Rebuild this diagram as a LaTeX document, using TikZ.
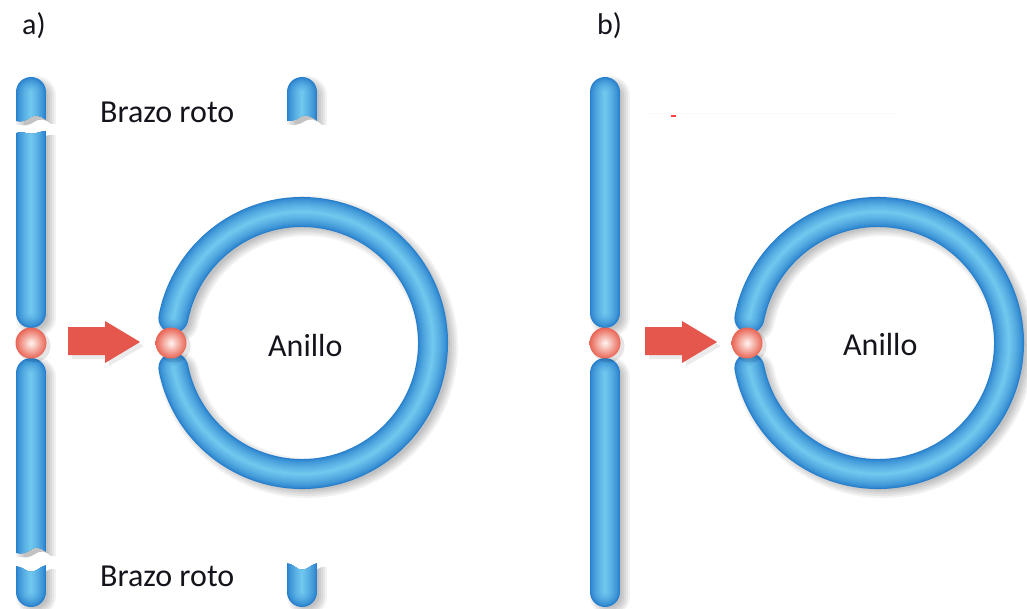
\documentclass[tikz,border=0pt]{standalone}
\usepackage{fontspec}
\setmainfont{Carlito}
\definecolor{tubeDark}{RGB}{38,126,204}
\definecolor{tubeLight}{RGB}{112,199,238}
\definecolor{cmOut}{RGB}{233,100,84}
\definecolor{cmIn}{RGB}{255,244,240}
\definecolor{arrowRed}{RGB}{229,86,76}
\definecolor{ink}{RGB}{20,20,28}

% layered strokes giving a cylindrical (tube) shading
\newcommand\tubestroke[1]{%
  \foreach \k in {0,...,14}{%
    \pgfmathsetmacro\w{30-2*\k}%
    \pgfmathtruncatemacro\p{100*(\k/14)^0.7}%
    \draw[line width=\w pt, line cap=round, tubeLight!\p!tubeDark] #1;%
  }}
% soft drop shadow behind a tube
\newcommand\shadowstroke[1]{%
  \foreach \k in {0,...,4}{%
    \pgfmathsetmacro\w{40-4*\k}%
    \draw[line width=\w pt, line cap=round, black, opacity=0.05] #1;%
  }}
% a tube piece cut by a clip region (broken ends)
\newcommand\piece[2]{%
  \begin{scope}[shift={(5,4)}]
    \clip #1;
    \shadowstroke{#2}
  \end{scope}
  \begin{scope}
    \clip #1;
    \tubestroke{#2}
  \end{scope}}
% a whole tube with rounded ends
\newcommand\tubeonly[1]{%
  \begin{scope}[shift={(5,4)}]
    \shadowstroke{#1}
  \end{scope}
  \tubestroke{#1}}

\begin{document}
\begin{tikzpicture}[x=1pt,y=-1pt,
  lbl/.style={font=\fontsize{32}{38}\selectfont, text=ink, inner sep=0pt, anchor=base west},
  tag/.style={font=\fontsize{30}{36}\selectfont, text=ink, inner sep=0pt, anchor=base west},
  centro/.style={circle, minimum size=31pt, inner sep=0pt, shade, inner color=cmIn, outer color=cmOut},
  cshadow/.style={circle, minimum size=33pt, inner sep=0pt, fill=black, opacity=0.1},
  blockarrow/.style={fill=arrowRed}]

\fill[white] (0,0) rectangle (1027,609);
\useasboundingbox (0,0) rectangle (1027,609);

% ---------------- panel a) ----------------
\node[tag] (tagA) at (22,35) {a)};

% broken chromosome, left column
\piece{(0,60) -- (60,60) -- (60,120) -- (46,120) .. controls (41,115) and (34,114) .. (29,118) .. controls (25,121) and (20,122) .. (16,121) -- (0,121) -- cycle}
      {(31,92) -- (31,140)}
\piece{(0,133) -- (16,133) .. controls (22,130) and (27,135) .. (33,134) .. controls (38,133) and (42,131) .. (46,131) -- (60,131) -- (60,340) -- (0,340) -- cycle}
      {(31,120) -- (31,313)}
\piece{(0,340) -- (60,340) -- (60,552) -- (46,552) .. controls (41,547) and (35,546) .. (30,550) .. controls (26,553) and (21,554) .. (16,553) -- (0,553) -- cycle}
      {(31,373) -- (31,580)}
\piece{(0,566) -- (16,566) .. controls (22,567) and (27,572) .. (31,572) .. controls (36,572) and (40,567) .. (46,565) -- (60,565) -- (60,620) -- (0,620) -- cycle}
      {(31,550) -- (31,592)}

% detached arm tips
\piece{(280,60) -- (330,60) -- (330,121) -- (317,121) .. controls (311,115) and (305,114) .. (300,117) .. controls (296,120) and (291,121) .. (287,121) -- (280,121) -- cycle}
      {(302,92) -- (302,140)}
\piece{(280,563) -- (287,563) .. controls (293,564) and (297,570) .. (302,570) .. controls (307,570) and (311,565) .. (317,563) -- (330,563) -- (330,620) -- (280,620) -- cycle}
      {(302,550) -- (302,592)}

\node[lbl] (brazoTop) at (100,123) {Brazo roto};
\node[lbl] (brazoBot) at (100,586) {Brazo roto};

% ring chromosome
\tubeonly{(302,343) ++(191:131) arc[start angle=191, end angle=529, radius=131]}
\node[lbl] (anilloA) at (268,356) {Anillo};

% arrow
\fill[black, opacity=0.08] (72,331) -- (109,331) -- (109,326) -- (144,346) -- (109,366) -- (109,359) -- (72,359) -- cycle;
\fill[blockarrow] (68,327) -- (105,327) -- (105,321) -- (140,342) -- (105,363) -- (105,355) -- (68,355) -- cycle;

% centromeres
\node[cshadow] (csA1) at (34,346) {};
\node[cshadow] (csA2) at (174,346) {};
\node[centro] (cenA) at (31,343) {};
\node[centro] (cenRingA) at (171,343) {};

% ---------------- panel b) ----------------
\node[tag] (tagB) at (597,35) {b)};

\draw[gray!5, line width=0.8pt] (650,113) -- (895,113);
\fill[red!75!white] (671,115) rectangle (676,117);

\tubeonly{(605,92) -- (605,313)}
\tubeonly{(605,373) -- (605,592)}

\tubeonly{(878,343) ++(191:131) arc[start angle=191, end angle=529, radius=131]}
\node[lbl] (anilloB) at (843,355) {Anillo};

\fill[black, opacity=0.08] (649,331) -- (686,331) -- (686,326) -- (721,346) -- (686,366) -- (686,359) -- (649,359) -- cycle;
\fill[blockarrow] (645,327) -- (682,327) -- (682,321) -- (717,342) -- (682,363) -- (682,355) -- (645,355) -- cycle;

\node[cshadow] (csB1) at (608,346) {};
\node[cshadow] (csB2) at (750,346) {};
\node[centro] (cenB) at (605,343) {};
\node[centro] (cenRingB) at (747,343) {};

\end{tikzpicture}
\end{document}
